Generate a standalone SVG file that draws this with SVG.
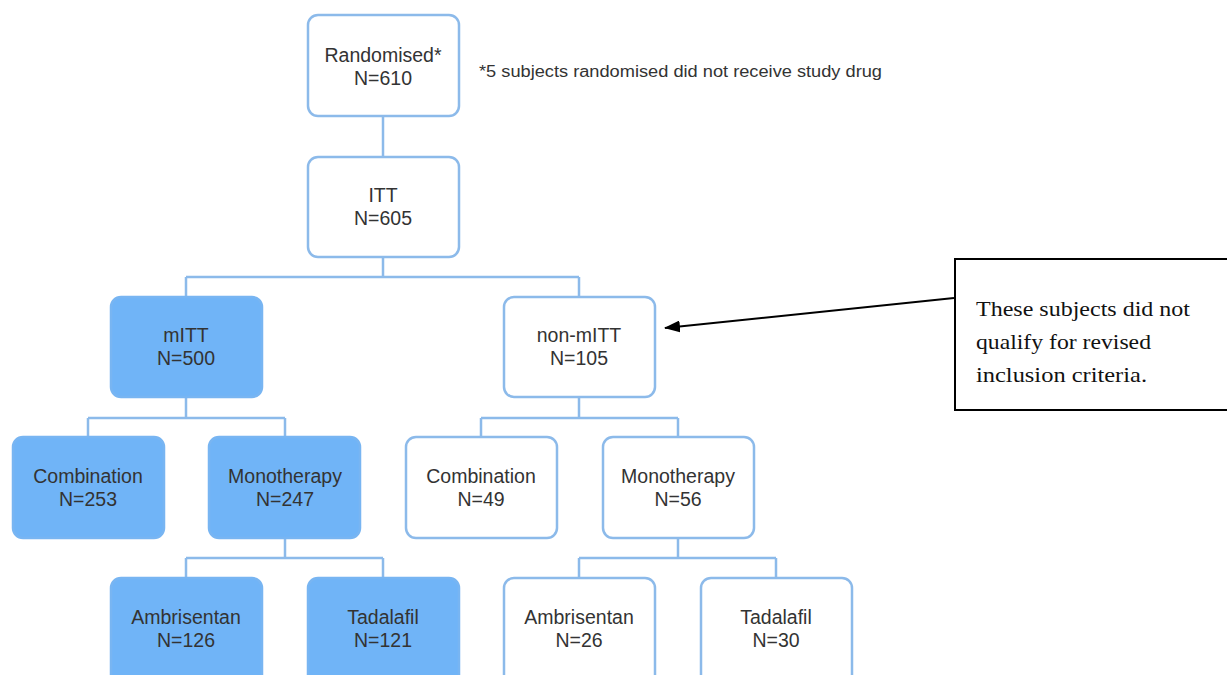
<svg xmlns="http://www.w3.org/2000/svg" width="1227" height="675" viewBox="0 0 1227 675">
<style>
.box{fill:#ffffff;stroke:#8cbaea;stroke-width:2.5}
.filled{fill:#70b4f7;stroke:#78b5f2;stroke-width:2.5}
.t{font-family:"Liberation Sans",Arial,sans-serif;font-size:19.5px;fill:#333333;text-anchor:middle}
.conn{fill:none;stroke:#8cbaea;stroke-width:2.5}
.note{font-family:"Liberation Sans",Arial,sans-serif;font-size:16px;fill:#333333}
.call{font-family:"Liberation Serif","Times New Roman",serif;font-size:21px;fill:#111111}
</style>
<defs>
<marker id="ah" markerWidth="16" markerHeight="12" refX="15" refY="6" orient="auto" markerUnits="userSpaceOnUse">
<path d="M0,0 L16,6 L0,12 Z" fill="#000"/>
</marker>
</defs>
<rect width="1227" height="675" fill="#ffffff"/>
<g id="connectors">
<path class="conn" d="M383,116 V157"/>
<path class="conn" d="M383,257 V277 M186,277 H579 M186,277 V297 M579,277 V297"/>
<path class="conn" d="M186,397 V418 M88,418 H285 M88,418 V437 M285,418 V437"/>
<path class="conn" d="M579,397 V418 M481,418 H678 M481,418 V437 M678,418 V437"/>
<path class="conn" d="M285,538 V558 M186,558 H383 M186,558 V578 M383,558 V578"/>
<path class="conn" d="M678,538 V558 M579,558 H776 M579,558 V578 M776,558 V578"/>
<line x1="954" y1="298" x2="665" y2="328" stroke="#000" stroke-width="2" marker-end="url(#ah)"/>
</g>
<g id="randomised">
<rect class="box" x="308" y="15" width="151" height="101" rx="10"/>
<text class="t" x="383" y="62">Randomised*</text>
<text class="t" x="383" y="85">N=610</text>
</g>
<g id="note">
<text class="note" x="479" y="77" textLength="403" lengthAdjust="spacingAndGlyphs">*5 subjects randomised did not receive study drug</text>
</g>
<g id="itt">
<rect class="box" x="308" y="157" width="151" height="100" rx="10"/>
<text class="t" x="383" y="202">ITT</text>
<text class="t" x="383" y="225">N=605</text>
</g>
<g id="mitt">
<rect class="filled" x="111" y="297" width="151" height="100" rx="10"/>
<text class="t" x="186" y="342">mITT</text>
<text class="t" x="186" y="365">N=500</text>
</g>
<g id="nonmitt">
<rect class="box" x="504" y="297" width="151" height="100" rx="10"/>
<text class="t" x="579" y="342">non-mITT</text>
<text class="t" x="579" y="365">N=105</text>
</g>
<g id="combination-m">
<rect class="filled" x="13" y="437" width="151" height="101" rx="10"/>
<text class="t" x="88" y="483">Combination</text>
<text class="t" x="88" y="506">N=253</text>
</g>
<g id="monotherapy-m">
<rect class="filled" x="209" y="437" width="151" height="101" rx="10"/>
<text class="t" x="285" y="483">Monotherapy</text>
<text class="t" x="285" y="506">N=247</text>
</g>
<g id="combination-n">
<rect class="box" x="406" y="437" width="151" height="101" rx="10"/>
<text class="t" x="481" y="483">Combination</text>
<text class="t" x="481" y="506">N=49</text>
</g>
<g id="monotherapy-n">
<rect class="box" x="603" y="437" width="151" height="101" rx="10"/>
<text class="t" x="678" y="483">Monotherapy</text>
<text class="t" x="678" y="506">N=56</text>
</g>
<g id="ambrisentan-m">
<rect class="filled" x="111" y="578" width="151" height="110" rx="10"/>
<text class="t" x="186" y="624">Ambrisentan</text>
<text class="t" x="186" y="647">N=126</text>
</g>
<g id="tadalafil-m">
<rect class="filled" x="308" y="578" width="151" height="110" rx="10"/>
<text class="t" x="383" y="624">Tadalafil</text>
<text class="t" x="383" y="647">N=121</text>
</g>
<g id="ambrisentan-n">
<rect class="box" x="504" y="578" width="151" height="110" rx="10"/>
<text class="t" x="579" y="624">Ambrisentan</text>
<text class="t" x="579" y="647">N=26</text>
</g>
<g id="tadalafil-n">
<rect class="box" x="701" y="578" width="151" height="110" rx="10"/>
<text class="t" x="776" y="624">Tadalafil</text>
<text class="t" x="776" y="647">N=30</text>
</g>
<g id="callout">
<rect x="955" y="259" width="280" height="151" fill="#ffffff" stroke="#000" stroke-width="2"/>
<text class="call" x="976" y="316" textLength="214" lengthAdjust="spacingAndGlyphs">These subjects did not</text>
<text class="call" x="976" y="349" textLength="175" lengthAdjust="spacingAndGlyphs">qualify for revised</text>
<text class="call" x="976" y="382" textLength="171" lengthAdjust="spacingAndGlyphs">inclusion criteria.</text>
</g>
</svg>
